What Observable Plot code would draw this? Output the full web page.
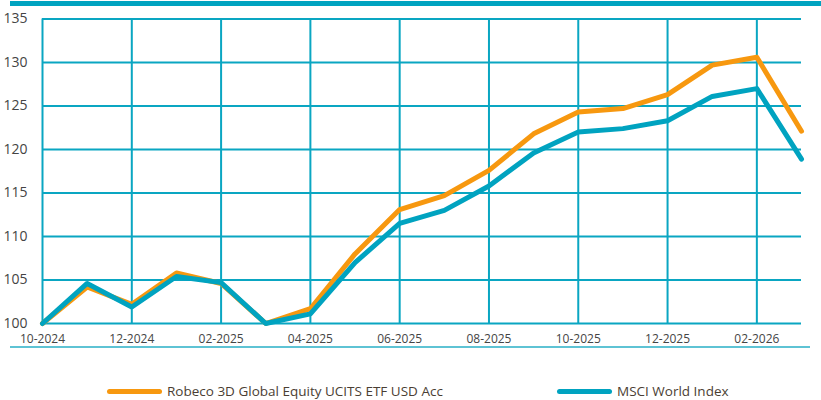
<!DOCTYPE html>
<html><head><meta charset="utf-8">
<script src="https://cdn.jsdelivr.net/npm/d3@7"></script>
<script src="https://cdn.jsdelivr.net/npm/@observablehq/plot@0.6"></script>
<style>
body{margin:0;background:#fff;font-family:"Open Sans",sans-serif;}
#wrap{position:relative;width:821px;height:400px;overflow:hidden;}
#topbar{position:absolute;left:10px;top:1px;width:811px;height:5px;background:#00a3c0;}
#botline{position:absolute;left:10px;top:346px;width:800px;height:2px;background:#5ec3d4;}
#chart{position:absolute;left:0;top:0;}
.leg{position:absolute;top:383px;height:17px;line-height:17px;font-size:13.5px;color:#4a3e33;display:flex;align-items:center;white-space:nowrap;}
.leg span.sw{display:inline-block;width:55px;height:5px;border-radius:3px;margin-right:5px;}
</style></head>
<body><div id="wrap"><div id="chart"></div><div id="topbar"></div><div id="botline"></div>
<div class="leg" style="left:107px"><span class="sw" style="background:#f7980f"></span>Robeco 3D Global Equity UCITS ETF USD Acc</div>
<div class="leg" style="left:557px"><span class="sw" style="background:#00a3c0"></span>MSCI World Index</div>
</div>
<script>
const months = ["10-2024","11-2024","12-2024","01-2025","02-2025","03-2025","04-2025","05-2025","06-2025","07-2025","08-2025","09-2025","10-2025","11-2025","12-2025","01-2026","02-2026","03-2026"];
const robeco = [100,104.2,102.2,105.8,104.6,100,101.7,108.0,113.1,114.7,117.6,121.8,124.3,124.7,126.3,129.7,130.6,122.1];
const msci = [100,104.6,101.9,105.4,104.7,100,101.1,107.0,111.5,113.0,115.8,119.6,122.0,122.4,123.3,126.1,127.0,118.9];
const xTicks = ["10-2024","12-2024","02-2025","04-2025","06-2025","08-2025","10-2025","12-2025","02-2026"];
const yTicks = [100,105,110,115,120,125,130,135];
const seriesNames = ["Robeco 3D Global Equity UCITS ETF USD Acc","MSCI World Index"];
const colors = ["#f7980f","#00a3c0"];
const rows = [];
[robeco, msci].forEach((arr, si) => arr.forEach((v, i) => rows.push({month: months[i], value: v, series: seriesNames[si]})));
const grid = "#0aa6c2";
const chart = Plot.plot({
  width: 821, height: 352,
  marginLeft: 42, marginRight: 20, marginTop: 18.5, marginBottom: 29,
  style: {fontFamily: "Open Sans, sans-serif", color: "#333"},
  x: {type: "point", domain: months, padding: 0, round: false, range: [42, 801]},
  y: {domain: [100, 135], range: [323, 18.5]},
  color: {domain: seriesNames, range: colors},
  marks: [
    Plot.gridX(xTicks, {stroke: grid, strokeOpacity: 1, strokeWidth: 2}),
    Plot.gridY(yTicks, {stroke: grid, strokeOpacity: 1, strokeWidth: 2}),
    Plot.axisX(xTicks, {tickSize: 0, tickPadding: 11, fontSize: 12, label: null, fill: "#444"}),
    Plot.axisY(yTicks, {tickSize: 0, tickPadding: 15, fontSize: 14, label: null, fill: "#444"}),
    Plot.line(rows, {x: "month", y: "value", z: "series", stroke: "series", strokeWidth: 5, strokeLinecap: "round", strokeLinejoin: "round"})
  ]
});
document.getElementById("chart").appendChild(chart);
</script></body></html>
